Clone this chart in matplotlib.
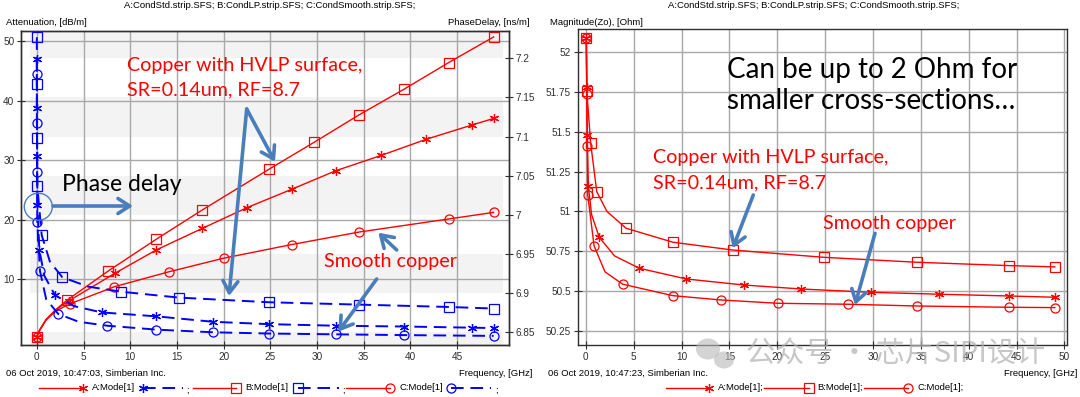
import matplotlib
matplotlib.use("Agg")
import matplotlib.pyplot as plt
from matplotlib.lines import Line2D
from matplotlib.patches import FancyArrowPatch, Ellipse
import numpy as np

W, H = 1080, 397

# ---- left panel: attenuation [dB/m] (red, left axis)
att_a_f = [0, 0.3, 1.0, 2.0, 3.4, 8.4, 12.8, 17.7, 22.5, 27.3, 32.0, 36.9, 41.7, 46.6, 48.9]
att_a = [0.3, 1.4, 3.2, 4.8, 6.3, 11.0, 14.9, 18.5, 22.0, 25.1, 28.2, 30.8, 33.5, 35.9, 37.0]
att_b_f = [0, 0.3, 1.0, 2.0, 3.2, 7.6, 12.8, 17.7, 24.9, 29.7, 34.5, 39.3, 44.1, 48.9]
att_b = [0.3, 1.4, 3.2, 4.8, 6.4, 11.3, 16.7, 21.6, 28.5, 33.0, 37.6, 41.9, 46.4, 50.7]
att_c_f = [0, 0.3, 1.0, 2.0, 3.5, 8.3, 14.1, 20.0, 27.3, 34.5, 44.1, 48.9]
att_c = [0.3, 1.4, 3.1, 4.6, 5.8, 8.7, 11.2, 13.5, 15.8, 17.9, 20.1, 21.2]

# ---- left panel: phase delay [ns/m] (blue dashed, right axis)
pd_a_f = [0, 0.01, 0.03, 0.06, 0.27, 0.8, 1.95, 4.0, 6.95, 12.8, 18.9, 24.9, 32.0, 39.3, 46.6, 48.9]
pd_a = [7.199, 7.137, 7.075, 7.012, 6.955, 6.922, 6.897, 6.883, 6.875, 6.870, 6.863, 6.860, 6.858, 6.857, 6.8555, 6.855]
pd_b_f = [0, 0.01, 0.03, 0.05, 0.52, 1.4, 2.73, 5.5, 9.0, 15.2, 24.9, 34.5, 44.1, 48.9]
pd_b = [7.227, 7.167, 7.098, 7.037, 6.974, 6.940, 6.920, 6.908, 6.9015, 6.894, 6.888, 6.885, 6.882, 6.880]
pd_c_f = [0, 0.01, 0.03, 0.05, 0.34, 1.0, 2.3, 4.5, 7.55, 12.8, 18.9, 24.9, 32.0, 39.3, 48.9]
pd_c = [7.180, 7.117, 7.054, 6.991, 6.928, 6.892, 6.873, 6.863, 6.858, 6.853, 6.8496, 6.848, 6.847, 6.846, 6.845]

# ---- right panel: |Zo| [Ohm]
zo_a_f = [0.05, 0.1, 0.15, 0.26, 0.6, 1.4, 3.0, 5.6, 10.5, 16.5, 22.5, 29.8, 36.9, 44.2, 49.0]
zo_a = [52.088, 51.784, 51.48, 51.16, 50.98, 50.837, 50.72, 50.642, 50.575, 50.537, 50.512, 50.491, 50.479, 50.468, 50.460]
zo_b_f = [0.05, 0.1, 0.5, 1.14, 2.2, 4.2, 9.1, 15.35, 24.9, 34.6, 44.2, 49.0]
zo_b = [52.088, 51.757, 51.43, 51.124, 51.0, 50.894, 50.806, 50.757, 50.711, 50.680, 50.659, 50.651]
zo_c_f = [0.05, 0.1, 0.15, 0.2, 0.86, 2.0, 3.85, 9.1, 14.1, 20.1, 27.4, 34.6, 44.2, 49.0]
zo_c = [52.088, 51.738, 51.41, 51.103, 50.783, 50.62, 50.542, 50.470, 50.443, 50.422, 50.416, 50.405, 50.397, 50.395]

# marker indices (extra points only shape the curves)
att_a_mk = [0] + list(range(4, 15))
att_b_mk = [0] + list(range(4, 14))
att_c_mk = [0] + list(range(4, 12))
pd_a_mk = [0, 1, 2, 3, 4, 6, 8, 9, 10, 11, 12, 13, 14, 15]
pd_b_mk = [0, 1, 2, 3, 4, 6, 8, 9, 10, 11, 12, 13]
pd_c_mk = [0, 1, 2, 3, 4, 6, 8, 9, 10, 11, 12, 13, 14]
zo_a_mk = [0, 1, 2, 3, 5, 7, 8, 9, 10, 11, 12, 13, 14]
zo_b_mk = [0, 1, 2, 3, 5, 6, 7, 8, 9, 10, 11]
zo_c_mk = [0, 1, 2, 3, 4, 6, 7, 8, 9, 10, 11, 12, 13]

left_xticks = [0, 5, 10, 15, 20, 25, 30, 35, 40, 45]
left_yticks = [10, 20, 30, 40, 50]
pd_ticks = [6.85, 6.9, 6.95, 7.0, 7.05, 7.1, 7.15, 7.2]
pd_labels = ["6.85", "6.9", "6.95", "7", "7.05", "7.1", "7.15", "7.2"]
pd_bands = [(6.8, 6.85), (6.9, 6.95), (7.0, 7.05), (7.1, 7.15), (7.2, 7.25)]
right_xticks = [0, 5, 10, 15, 20, 25, 30, 35, 40, 45, 50]
zo_ticks = [50.25, 50.5, 50.75, 51, 51.25, 51.5, 51.75, 52]
zo_labels = ["50.25", "50.5", "50.75", "51", "51.25", "51.5", "51.75", "52"]

RED = "#ff0000"
BLUE = "#0000ff"
ARROW = "#4a7ebb"
GRID = "#a8a8a8"
STAR = (6, 2, 0)
SMALL = ["Liberation Sans Narrow", "Liberation Sans", "DejaVu Sans"]
BIG = ["Lato", "DejaVu Sans"]
FS = 6.8      # small annotation text
ANN = 14.2    # red annotation text
DASH = (0, (6.5, 3.5))
plt.rcParams["font.family"] = SMALL


def fx(x):
    return x / W


def fy(y):
    return 1 - y / H


def style_axes(ax):
    for s in ax.spines.values():
        s.set_color("#303030")
        s.set_linewidth(1.0)
    ax.tick_params(direction="inout", length=6, width=0.8, labelsize=7.2,
                   colors="#303030", pad=2)


fig = plt.figure(figsize=(W / 100, H / 100), dpi=100)

# ================= left panel =================
ax1 = fig.add_axes([fx(21.4), fy(344.8), (509 - 21.4) / W, (344.8 - 31) / H])
ax1b = ax1.twinx()
ax1b.set_ylim(6.8336, 7.235)
ax1.set_axisbelow(True)

for lo, hi in pd_bands:
    ax1.fill_between([-0.7, 49.9], [lo, lo], [hi, hi], color="#f3f3f3",
                     lw=0, zorder=0.2, transform=ax1b.transData)
ax1.set_xlim(-1.65, 50.55)
ax1.set_ylim(-1.06, 51.7)

ax1.grid(True, color=GRID, lw=1.0)
ax1.set_xticks(left_xticks)
ax1.set_yticks(left_yticks)
ax1b.set_yticks(pd_ticks, pd_labels)
style_axes(ax1)
style_axes(ax1b)

for f, v, mk, m in [(att_a_f, att_a, att_a_mk, STAR), (att_b_f, att_b, att_b_mk, "s"),
                    (att_c_f, att_c, att_c_mk, "o")]:
    ax1.plot(f, v, color=RED, lw=1.0, marker=m, markevery=mk, ms=6.5,
             mfc="none", mec=RED, mew=0.9, zorder=3)

for f, v, mk, m in [(pd_a_f, pd_a, pd_a_mk, STAR), (pd_b_f, pd_b, pd_b_mk, "s"),
                    (pd_c_f, pd_c, pd_c_mk, "o")]:
    ax1b.plot(f, v, color=BLUE, lw=1.4, ls=DASH, marker=m, markevery=mk,
              ms=6.5, mfc="none", mec=BLUE, mew=0.9, zorder=3)

# ================= right panel =================
ax2 = fig.add_axes([fx(577.9), fy(344.8), (1066.9 - 577.9) / W, (344.8 - 29.3) / H])
ax2.set_xlim(-0.83, 50.26)
ax2.set_ylim(50.161, 52.145)
ax2.set_axisbelow(True)
ax2.grid(True, color=GRID, lw=1.0)
ax2.set_xticks(right_xticks)
ax2.set_yticks(zo_ticks, zo_labels)
style_axes(ax2)

for f, v, mk, m in [(zo_a_f, zo_a, zo_a_mk, STAR), (zo_b_f, zo_b, zo_b_mk, "s"),
                    (zo_c_f, zo_c, zo_c_mk, "o")]:
    ax2.plot(f, v, color=RED, lw=1.0, marker=m, markevery=mk, ms=6.5,
             mfc="none", mec=RED, mew=0.9, zorder=3)

# ================= small texts =================
title = "A:CondStd.strip.SFS; B:CondLP.strip.SFS; C:CondSmooth.strip.SFS;"
fig.text(fx(270), fy(6), title, ha="center", va="center", fontsize=FS)
fig.text(fx(814), fy(6), title, ha="center", va="center", fontsize=FS)
fig.text(fx(6), fy(22.4), "Attenuation, [dB/m]", va="center", fontsize=FS)
fig.text(fx(529), fy(22.4), "PhaseDelay, [ns/m]", ha="right", va="center", fontsize=FS)
fig.text(fx(550), fy(22.4), "Magnitude(Zo), [Ohm]", va="center", fontsize=FS)
fig.text(fx(6), fy(373), "06 Oct 2019, 10:47:03, Simberian Inc.", va="center", fontsize=FS)
fig.text(fx(532), fy(373), "Frequency, [GHz]", ha="right", va="center", fontsize=FS)
fig.text(fx(548), fy(373), "06 Oct 2019, 10:47:23, Simberian Inc.", va="center", fontsize=FS)
fig.text(fx(1077), fy(373), "Frequency, [GHz]", ha="right", va="center", fontsize=FS)


# ================= legends =================
def leg_line(x0, x1, y, color, ls, marker, at_end):
    fig.add_artist(Line2D([fx(x0), fx(x1)], [fy(y), fy(y)], transform=fig.transFigure,
                          color=color, lw=1.4 if ls != "-" else 1.0, ls=ls))
    xm = x1 if at_end else x0
    fig.add_artist(Line2D([fx(xm)], [fy(y)], transform=fig.transFigure, color=color,
                          marker=marker, ms=6.5, mfc="none", mec=color, mew=0.9, ls="none"))


ly = 388
leg_line(39, 82.6, ly, RED, "-", STAR, True)
fig.text(fx(92), fy(ly), "A:Mode[1]", va="center", fontsize=FS)
leg_line(143, 182.5, ly, BLUE, DASH, STAR, False)
fig.text(fx(186), fy(ly + 2), ";", va="center", fontsize=FS)
leg_line(193, 236, ly, RED, "-", "s", True)
fig.text(fx(245), fy(ly), "B:Mode[1]", va="center", fontsize=FS)
leg_line(298, 339, ly, BLUE, DASH, "s", False)
fig.text(fx(342), fy(ly + 2), ";", va="center", fontsize=FS)
leg_line(346, 390, ly, RED, "-", "o", True)
fig.text(fx(399), fy(ly), "C:Mode[1]", va="center", fontsize=FS)
leg_line(451, 490.7, ly, BLUE, DASH, "o", False)
fig.text(fx(495), fy(ly + 2), ";", va="center", fontsize=FS)

leg_line(665.7, 708.7, ly, RED, "-", STAR, True)
fig.text(fx(718), fy(ly), "A:Mode[1];", va="center", fontsize=FS)
leg_line(763.8, 808.6, ly, RED, "-", "s", True)
fig.text(fx(817), fy(ly), "B:Mode[1];", va="center", fontsize=FS)
leg_line(863.7, 907.8, ly, RED, "-", "o", True)
fig.text(fx(917), fy(ly), "C:Mode[1];", va="center", fontsize=FS)

# ================= annotations =================
fig.text(fx(127), fy(65), "Copper with HVLP surface,", color=RED, fontsize=ANN,
         family=BIG, va="center")
fig.text(fx(127), fy(90), "SR=0.14um, RF=8.7", color=RED, fontsize=ANN,
         family=BIG, va="center")
fig.text(fx(62), fy(185), "Phase delay", color="black", fontsize=16.5,
         family=BIG, va="center")
fig.text(fx(324), fy(262), "Smooth copper", color=RED, fontsize=ANN,
         family=BIG, va="center")
fig.text(fx(652.7), fy(158), "Copper with HVLP surface,", color=RED, fontsize=ANN,
         family=BIG, va="center")
fig.text(fx(652.7), fy(183), "SR=0.14um, RF=8.7", color=RED, fontsize=ANN,
         family=BIG, va="center")
fig.text(fx(823), fy(224), "Smooth copper", color=RED, fontsize=ANN,
         family=BIG, va="center")
fig.text(fx(727), fy(70), "Can be up to 2 Ohm for", color="black", fontsize=20,
         family=BIG, va="center")
fig.text(fx(727), fy(101), "smaller cross-sections\u2026", color="black", fontsize=20,
         family=BIG, va="center")


def arrow(x0, y0, x1, y1):
    fig.add_artist(FancyArrowPatch((fx(x0), fy(y0)), (fx(x1), fy(y1)),
                                   transform=fig.transFigure,
                                   arrowstyle="->,head_length=0.7,head_width=0.45",
                                   mutation_scale=12, lw=2.6, color=ARROW,
                                   shrinkA=0, shrinkB=0, capstyle="round"))


arrow(246.7, 109, 275, 161.7)
arrow(246.7, 109, 229, 296)
arrow(53, 206, 133, 206)
arrow(396.7, 250, 378.3, 232.7)
arrow(376.7, 279, 338.3, 331.7)
arrow(753.3, 195, 732.7, 248.3)
arrow(875, 233.3, 855, 305)

fig.add_artist(Ellipse((fx(38.3), fy(206.7)), 28 / W, 27 / H, transform=fig.transFigure,
                       fill=False, ec=ARROW, lw=1.0))

# watermark
fig.add_artist(Ellipse((fx(708), fy(349)), 24 / W, 21 / H, transform=fig.transFigure,
                       color="#b8b8b8", alpha=0.6, lw=0))
fig.add_artist(Ellipse((fx(724), fy(360)), 20 / W, 17 / H, transform=fig.transFigure,
                       color="#b8b8b8", alpha=0.6, lw=0))
fig.text(fx(746), fy(355), "公众号 · 芯片SIPI设计", color="#b0b0b0", alpha=0.7,
         fontsize=21, family=["Noto Sans CJK SC", "DejaVu Sans"], va="center")

fig.savefig("out.png", dpi=100)
